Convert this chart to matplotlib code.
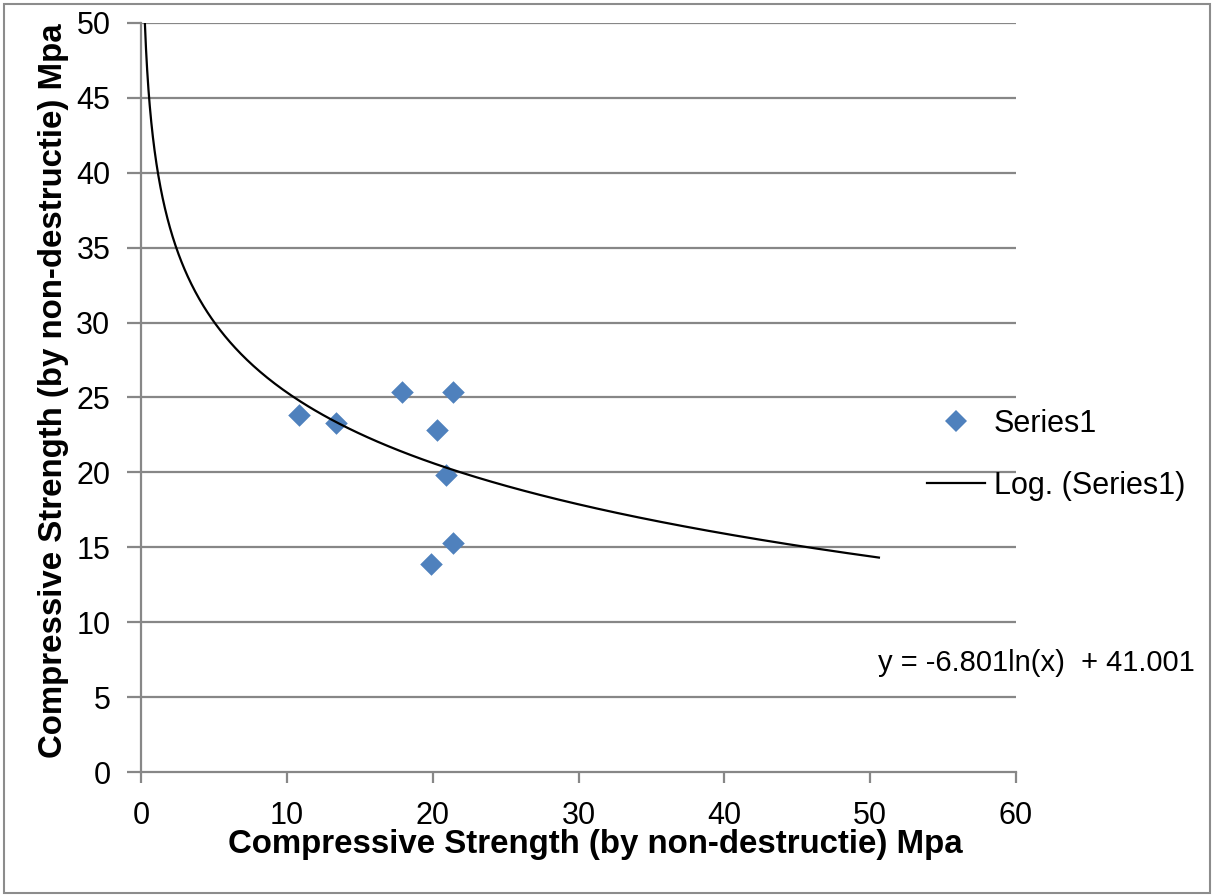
import numpy as np
import matplotlib
matplotlib.use('Agg')
import matplotlib.pyplot as plt
from matplotlib.lines import Line2D
from matplotlib.patches import Rectangle

plt.rcParams['font.family'] = ['Liberation Sans', 'DejaVu Sans']

# strength readings
x_vals = [10.8, 13.4, 17.9, 21.4, 20.3, 20.9, 21.4, 19.9]
y_vals = [23.8, 23.3, 25.4, 25.4, 22.8, 19.8, 15.3, 13.9]

# logarithmic trendline y = a*ln(x) + b
fit_a = -6.801
fit_b = 41.001
fit_x_start = 0.15
fit_x_end = 50.6

x_ticks = [0, 10, 20, 30, 40, 50, 60]
y_ticks = [0, 5, 10, 15, 20, 25, 30, 35, 40, 45, 50]

axis_grey = '#878787'
blue = '#4F81BD'

fig = plt.figure(figsize=(12.14, 8.96), dpi=100)
fig.patches.append(Rectangle((4 / 1214, 3 / 896), 1206 / 1214, 889 / 896,
                             transform=fig.transFigure, fill=False,
                             edgecolor='#8c8c8c', linewidth=1.5))

ax = fig.add_axes([141 / 1214, 1 - 772 / 896, 875 / 1214, 749 / 896])
ax.set_xlim(0, 60)
ax.set_ylim(0, 50)

for yv in y_ticks[1:]:
    ax.axhline(yv, color=axis_grey, linewidth=1.6, zorder=1)

ax.scatter(x_vals, y_vals, marker='D', s=11.5 ** 2, color=blue, zorder=3,
           linewidths=0)

tx = np.geomspace(fit_x_start, fit_x_end, 400)
ax.plot(tx, fit_a * np.log(tx) + fit_b, color='black', linewidth=1.6, zorder=4)

for side in ['top', 'right']:
    ax.spines[side].set_visible(False)
for side in ['left', 'bottom']:
    ax.spines[side].set_color(axis_grey)
    ax.spines[side].set_linewidth(1.6)

ax.set_xticks(x_ticks)
ax.set_yticks(y_ticks)
ax.tick_params(axis='y', length=10, width=1.6, color=axis_grey, pad=12,
               labelsize=22)
ax.tick_params(axis='x', length=8, width=1.6, color=axis_grey, pad=13,
               labelsize=22)

title_font = dict(fontsize=23.8, fontweight='bold')
ax.set_xlabel('Compressive Strength (by non-destructie) Mpa', **title_font)
ax.xaxis.set_label_coords((595 - 141) / 875, (772 - 829) / 749)
ax.set_ylabel('Compressive Strength (by non-destructie) Mpa', **title_font)
ax.yaxis.set_label_coords((69 - 141) / 875, (772 - 391) / 749)

handles = [Line2D([], [], marker='D', linestyle='none', color=blue,
                  markersize=11, markeredgewidth=0),
           Line2D([], [], color='black', linewidth=1.6)]
fig.legend(handles, ['Series1', 'Log. (Series1)'], loc='upper left',
           bbox_to_anchor=(899 / 1214, 1 - 381 / 896), frameon=False,
           fontsize=22, handlelength=1.9, handletextpad=0.3, labelspacing=1.05)

fig.text(1195 / 1214, 1 - 663 / 896, 'y = -6.801ln(x)  + 41.001', fontsize=21,
         ha='right', va='center')

fig.savefig('out.png', dpi=100)
